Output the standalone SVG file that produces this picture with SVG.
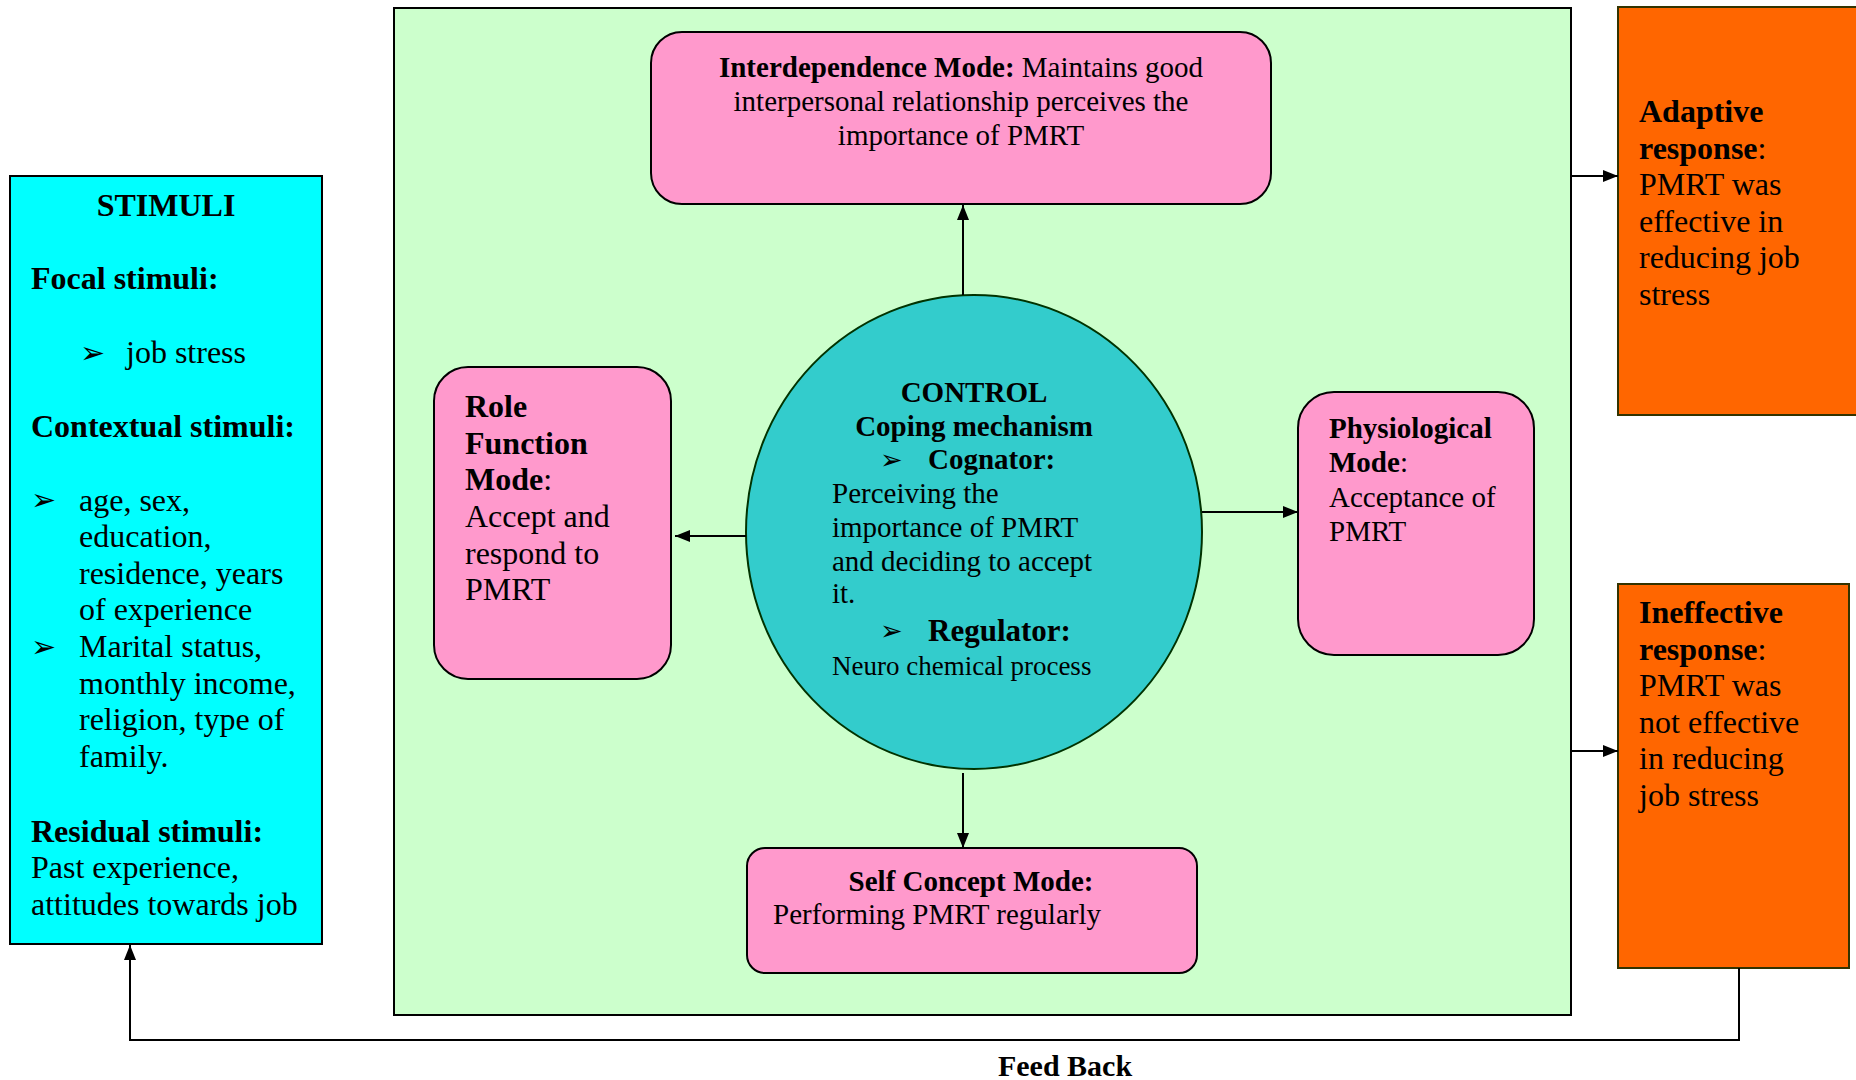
<svg xmlns="http://www.w3.org/2000/svg" width="1856" height="1080" viewBox="0 0 1856 1080">
<style>
text{font-family:"Liberation Serif","Times New Roman",serif;fill:#000}
.f32{font-size:32px}
.f29{font-size:29px}
.b{font-weight:bold}
.bul{font-family:"DejaVu Sans",sans-serif;font-size:30px}
.ln{stroke:#000;stroke-width:2;fill:none}
.pink{fill:#FF99CC;stroke:#000;stroke-width:2}
.orange{fill:#FF6600;stroke:#333300;stroke-width:2}
</style>
<defs>
<marker id="ah" markerUnits="userSpaceOnUse" markerWidth="16" markerHeight="14" refX="15" refY="7" orient="auto">
<path d="M0,1 L15,7 L0,13 z" fill="#000"/>
</marker>
</defs>
<rect width="1856" height="1080" fill="#fff"/>

<g id="control-area">
<rect x="394" y="8" width="1177" height="1007" fill="#CCFFCC" stroke="#000" stroke-width="2"/>
</g>

<g id="stimuli">
<rect x="10" y="176" width="312" height="768" fill="#00FFFF" stroke="#000" stroke-width="2"/>
<text class="f32 b" x="166" y="216" text-anchor="middle">STIMULI</text>
<text class="f32 b" x="31" y="289">Focal stimuli:</text>
<text class="bul" x="80" y="363">➢</text>
<text class="f32" x="126" y="363">job stress</text>
<text class="f32 b" x="31" y="437">Contextual stimuli:</text>
<text class="bul" x="31" y="510">➢</text>
<text class="f32" x="79" y="511">age, sex,</text>
<text class="f32" x="79" y="547">education,</text>
<text class="f32" x="79" y="584">residence, years</text>
<text class="f32" x="79" y="620">of experience</text>
<text class="bul" x="31" y="657">➢</text>
<text class="f32" x="79" y="657">Marital status,</text>
<text class="f32" x="79" y="694">monthly income,</text>
<text class="f32" x="79" y="730">religion, type of</text>
<text class="f32" x="79" y="767">family.</text>
<text class="f32 b" x="31" y="842">Residual stimuli:</text>
<text class="f32" x="31" y="878">Past experience,</text>
<text class="f32" x="31" y="915">attitudes towards job</text>
</g>

<g id="interdependence">
<rect class="pink" x="651" y="32" width="620" height="172" rx="31" ry="31"/>
<text class="f29" x="961" y="77" text-anchor="middle"><tspan class="b">Interdependence Mode:</tspan> Maintains good</text>
<text class="f29" x="961" y="111" text-anchor="middle">interpersonal relationship perceives the</text>
<text class="f29" x="961" y="145" text-anchor="middle">importance of PMRT</text>
</g>

<g id="role-function">
<rect class="pink" x="434" y="367" width="237" height="312" rx="34" ry="34"/>
<text class="f32 b" x="465" y="417">Role</text>
<text class="f32 b" x="465" y="454">Function</text>
<text class="f32" x="465" y="490"><tspan class="b">Mode</tspan>:</text>
<text class="f32" x="465" y="527">Accept and</text>
<text class="f32" x="465" y="564">respond to</text>
<text class="f32" x="465" y="600">PMRT</text>
</g>

<g id="physiological">
<rect class="pink" x="1298" y="392" width="236" height="263" rx="36" ry="36"/>
<text class="f29 b" x="1329" y="438">Physiological</text>
<text class="f29" x="1329" y="472"><tspan class="b">Mode</tspan>:</text>
<text class="f29" x="1329" y="507">Acceptance of</text>
<text class="f29" x="1329" y="541">PMRT</text>
</g>

<g id="self-concept">
<rect class="pink" x="747" y="848" width="450" height="125" rx="18" ry="18"/>
<text class="f29 b" x="971" y="891" text-anchor="middle">Self Concept Mode:</text>
<text class="f29" x="773" y="924">Performing PMRT regularly</text>
</g>

<g id="control">
<ellipse cx="974" cy="532" rx="228" ry="237" fill="#33CCCC" stroke="#003300" stroke-width="2"/>
<text class="f29 b" x="974" y="402" text-anchor="middle">CONTROL</text>
<text class="f29 b" x="974" y="436" text-anchor="middle">Coping mechanism</text>
<text class="bul" style="font-size:27px" x="880" y="469">➢</text>
<text class="f29 b" x="928" y="469">Cognator:</text>
<text class="f29" x="832" y="503">Perceiving the</text>
<text class="f29" x="832" y="537">importance of PMRT</text>
<text class="f29" x="832" y="571">and deciding to accept</text>
<text class="f29" x="832" y="603">it.</text>
<text class="bul" style="font-size:27px" x="880" y="640">➢</text>
<text class="b" style="font-size:31px" x="928" y="641">Regulator:</text>
<text style="font-size:27px" x="832" y="675">Neuro chemical process</text>
</g>

<g id="adaptive">
<rect class="orange" x="1618" y="7" width="242" height="408"/>
<text class="f32 b" x="1639" y="122">Adaptive</text>
<text class="f32" x="1639" y="159"><tspan class="b">response</tspan>:</text>
<text class="f32" x="1639" y="195">PMRT was</text>
<text class="f32" x="1639" y="232">effective in</text>
<text class="f32" x="1639" y="268">reducing job</text>
<text class="f32" x="1639" y="305">stress</text>
</g>

<g id="ineffective">
<rect class="orange" x="1618" y="584" width="231" height="384" stroke="#000"/>
<text class="f32 b" x="1639" y="623">Ineffective</text>
<text class="f32" x="1639" y="660"><tspan class="b">response</tspan>:</text>
<text class="f32" x="1639" y="696">PMRT was</text>
<text class="f32" x="1639" y="733">not effective</text>
<text class="f32" x="1639" y="769">in reducing</text>
<text class="f32" x="1639" y="806">job stress</text>
</g>

<g id="connectors">
<line class="ln" x1="963" y1="295" x2="963" y2="205" marker-end="url(#ah)"/>
<line class="ln" x1="963" y1="773" x2="963" y2="848" marker-end="url(#ah)"/>
<line class="ln" x1="746" y1="536" x2="675" y2="536" marker-end="url(#ah)"/>
<line class="ln" x1="1202" y1="512" x2="1298" y2="512" marker-end="url(#ah)"/>
<line class="ln" x1="1571" y1="176" x2="1618" y2="176" marker-end="url(#ah)"/>
<line class="ln" x1="1571" y1="751" x2="1618" y2="751" marker-end="url(#ah)"/>
<polyline class="ln" points="1739,968 1739,1040 130,1040 130,945" marker-end="url(#ah)"/>
</g>

<g id="feedback-label">
<text class="b" style="font-size:30px" x="1065" y="1076" text-anchor="middle">Feed Back</text>
</g>
</svg>
